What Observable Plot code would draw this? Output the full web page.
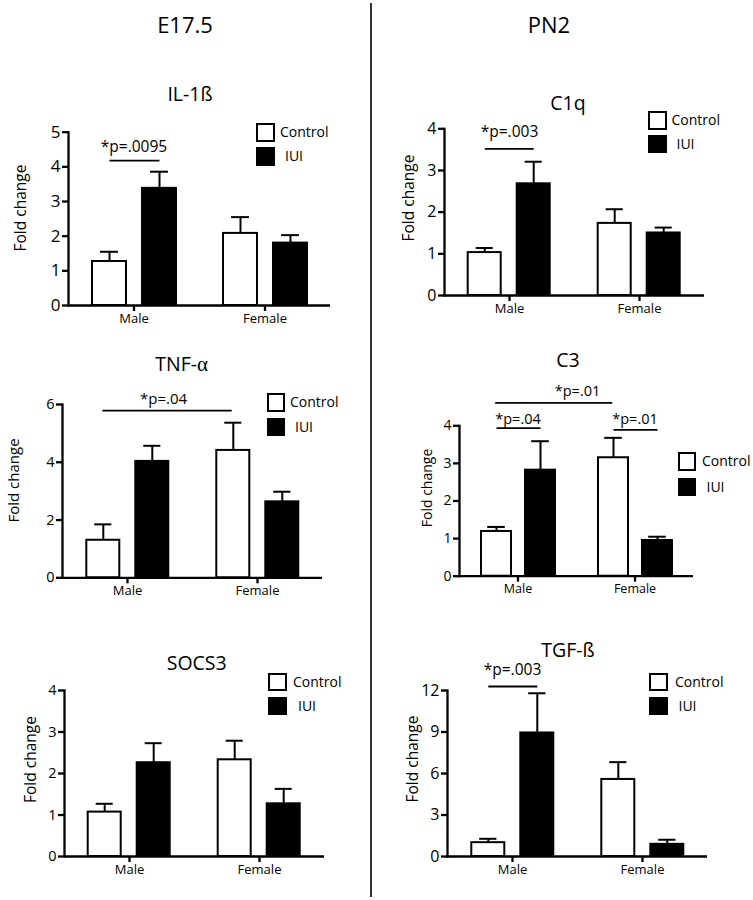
<!DOCTYPE html>
<html>
<head>
<meta charset="utf-8">
<script src="https://cdn.jsdelivr.net/npm/d3@7"></script>
<script src="https://cdn.jsdelivr.net/npm/@observablehq/plot@0.6"></script>
<style>
  body { margin: 0; background: #fff; }
  #fig { position: relative; width: 753px; height: 900px; font-family: "Open Sans", sans-serif; color: #000; overflow: hidden; background: #fff; }
  #fig svg { position: absolute; }
  .hdr { position: absolute; font-size: 22px; transform: translate(-50%, -50%); white-space: nowrap; }
  .ttl { position: absolute; font-size: 19.5px; transform: translate(-50%, -50%); white-space: nowrap; }
  .box { position: absolute; box-sizing: border-box; border: 2px solid #000; }
  .lg { position: absolute; font-size: 14px; transform: translateY(-50%); white-space: nowrap; line-height: 1; }
  .divider { position: absolute; left: 370px; top: 3px; width: 2px; height: 894px; background: #333; }
</style>
</head>
<body>
<div id="fig"></div>
<script>
// ---------- data ----------
const sexes = ["Male", "Female"];
const groups = ["Control", "IUI"];
const columnHeaders = ["E17.5", "PN2"];
const yLabel = "Fold change";

// IL-1ß (E17.5)
const il1bControl = [1.27, 2.08];
const il1bControlSem = [0.28, 0.47];
const il1bIUI = [3.38, 1.80];
const il1bIUISem = [0.48, 0.23];
const il1bTicks = [0, 1, 2, 3, 4, 5];
const il1bSig = [{kind: "within", sex: "Male", from: "Control", to: "IUI", line: 4.18, text: 4.56, label: "*p=.0095"}];

// TNF-α (E17.5)
const tnfControl = [1.30, 4.41];
const tnfControlSem = [0.55, 0.96];
const tnfIUI = [4.03, 2.63];
const tnfIUISem = [0.54, 0.35];
const tnfTicks = [0, 2, 4, 6];
const tnfSig = [{kind: "across", line: 5.79, text: 6.20, label: "*p=.04"}];

// SOCS3 (E17.5)
const socs3Control = [1.07, 2.33];
const socs3ControlSem = [0.20, 0.46];
const socs3IUI = [2.26, 1.27];
const socs3IUISem = [0.47, 0.36];
const socs3Ticks = [0, 1, 2, 3, 4];
const socs3Sig = [];

// C1q (PN2)
const c1qControl = [1.03, 1.73];
const c1qControlSem = [0.11, 0.34];
const c1qIUI = [2.68, 1.50];
const c1qIUISem = [0.53, 0.13];
const c1qTicks = [0, 1, 2, 3, 4];
const c1qSig = [{kind: "within", sex: "Male", from: "Control", to: "IUI", line: 3.52, text: 3.92, label: "*p=.003"}];

// C3 (PN2)
const c3Control = [1.19, 3.15];
const c3ControlSem = [0.12, 0.53];
const c3IUI = [2.82, 0.95];
const c3IUISem = [0.77, 0.10];
const c3Ticks = [0, 1, 2, 3, 4];
const c3Sig = [
  {kind: "across", line: 4.61, text: 4.92, label: "*p=.01"},
  {kind: "within", sex: "Male", from: "Control", to: "IUI", line: 3.94, text: 4.16, label: "*p=.04"},
  {kind: "within", sex: "Female", from: "Control", to: "IUI", line: 3.89, text: 4.16, label: "*p=.01"}
];

// TGF-ß (PN2)
const tgfbControl = [1.00, 5.57];
const tgfbControlSem = [0.28, 1.25];
const tgfbIUI = [8.93, 0.88];
const tgfbIUISem = [2.87, 0.33];
const tgfbTicks = [0, 3, 6, 9, 12];
const tgfbSig = [{kind: "within", sex: "Male", from: "Control", to: "IUI", line: 12.29, text: 13.45, label: "*p=.003"}];

// ---------- layout ----------
const PAD_INNER = 0.32, PAD_OUTER = 0.47, CAP_W = 18;

const panels = [
  {title: "IL-1ß", titleAt: [190, 92.7], svg: {left: 0, top: 105, width: 370, height: 235}, frame: {L: 67, R: 330, T: 131.7, B: 305},
   ticks: il1bTicks, control: il1bControl, controlErr: il1bControlSem, iui: il1bIUI, iuiErr: il1bIUISem, sig: il1bSig, acrossDx: 0,
   tickFont: 17, xFont: 13, yLabelAt: [20, 207.5], yLabelFont: 15.5, sigFont: 15.5,
   legend: {x: 256, yC: 123, yI: 147, tx: 280, ti: 285}},
  {title: "C1q", titleAt: [568, 101.7], svg: {left: 375, top: 100, width: 378, height: 230}, frame: {L: 443.3, R: 705, T: 128.3, B: 295},
   ticks: c1qTicks, control: c1qControl, controlErr: c1qControlSem, iui: c1qIUI, iuiErr: c1qIUISem, sig: c1qSig, acrossDx: 0,
   tickFont: 16, xFont: 13, yLabelAt: [408, 197.5], yLabelFont: 15.5, sigFont: 15.5,
   legend: {x: 648, yC: 111, yI: 134.5, tx: 671.5, ti: 676.5}},
  {title: "TNF-<span style=\"font-family:'Liberation Serif',serif;font-size:21px\">α</span>", titleAt: [181.7, 363.3], svg: {left: 0, top: 380, width: 370, height: 232}, frame: {L: 61.7, R: 323, T: 404, B: 577.3},
   ticks: tnfTicks, control: tnfControl, controlErr: tnfControlSem, iui: tnfIUI, iuiErr: tnfIUISem, sig: tnfSig, acrossDx: -29,
   tickFont: 14.5, xFont: 13, yLabelAt: [13.5, 480], yLabelFont: 15, sigFont: 15,
   legend: {x: 266.5, yC: 393, yI: 417.5, tx: 290, ti: 295}},
  {title: "C3", titleAt: [568, 359], svg: {left: 375, top: 375, width: 378, height: 235}, frame: {L: 459, R: 693, T: 425.3, B: 575.7},
   ticks: c3Ticks, control: c3Control, controlErr: c3ControlSem, iui: c3IUI, iuiErr: c3IUISem, sig: c3Sig, acrossDx: 1,
   tickFont: 14, xFont: 12.5, yLabelAt: [427, 487.5], yLabelFont: 14, sigFont: 14.5,
   legend: {x: 677.5, yC: 452, yI: 477.5, tx: 702, ti: 706.5}},
  {title: "SOCS3", titleAt: [196.7, 661.7], svg: {left: 0, top: 665, width: 370, height: 225}, frame: {L: 63.3, R: 325, T: 690, B: 856},
   ticks: socs3Ticks, control: socs3Control, controlErr: socs3ControlSem, iui: socs3IUI, iuiErr: socs3IUISem, sig: socs3Sig, acrossDx: 0,
   tickFont: 14.5, xFont: 13, yLabelAt: [29.5, 759], yLabelFont: 15.5, sigFont: 15,
   legend: {x: 268, yC: 672.5, yI: 696.5, tx: 293, ti: 298}},
  {title: "TGF-ß", titleAt: [568, 649.3], svg: {left: 375, top: 655, width: 378, height: 235}, frame: {L: 446.7, R: 706.7, T: 690, B: 856},
   ticks: tgfbTicks, control: tgfbControl, controlErr: tgfbControlSem, iui: tgfbIUI, iuiErr: tgfbIUISem, sig: tgfbSig, acrossDx: 0,
   tickFont: 16, xFont: 13, yLabelAt: [412, 758.5], yLabelFont: 15.5, sigFont: 15.5,
   legend: {x: 649, yC: 672.5, yI: 696.5, tx: 675, ti: 678.5}}
];

const fig = document.getElementById("fig");

function addDiv(cls, html, x, y) {
  const d = document.createElement("div");
  d.className = cls;
  d.innerHTML = html;
  d.style.left = x + "px";
  d.style.top = y + "px";
  fig.appendChild(d);
  return d;
}

function drawPanel(p) {
  const {svg, frame} = p;
  const ml = frame.L - svg.left;
  const mr = svg.left + svg.width - frame.R;
  const mt = frame.T - svg.top;
  const mb = svg.top + svg.height - frame.B;
  const rows = [];
  sexes.forEach((s, i) => {
    rows.push({sex: s, group: groups[0], value: p.control[i], err: p.controlErr[i]});
    rows.push({sex: s, group: groups[1], value: p.iui[i], err: p.iuiErr[i]});
  });
  const facetW = (frame.R - frame.L) / sexes.length;
  const frameH = frame.B - frame.T;
  const step = facetW / (groups.length - PAD_INNER + 2 * PAD_OUTER);
  const bw = step * (1 - PAD_INNER);
  const ctrlCenter = PAD_OUTER * step + bw / 2;
  const capInset = (bw - CAP_W) / 2;
  const within = p.sig.filter(d => d.kind === "within");
  const across = p.sig.filter(d => d.kind === "across");
  const yMax = p.ticks[p.ticks.length - 1];
  const frameMidY = (frame.T + frame.B) / 2;

  const chart = Plot.plot({
    width: svg.width,
    height: svg.height,
    marginLeft: ml, marginRight: mr, marginTop: mt, marginBottom: mb,
    style: {fontFamily: "Open Sans, sans-serif", color: "#000", background: "transparent", overflow: "visible", maxWidth: "none"},
    fx: {domain: sexes, padding: 0},
    x: {domain: groups, paddingInner: PAD_INNER, paddingOuter: PAD_OUTER, axis: null},
    y: {domain: [0, yMax]},
    color: {domain: groups, range: ["#fff", "#000"]},
    marks: [
      Plot.barY(rows, {fx: "sex", x: "group", y: "value", fill: "group", stroke: "#000", strokeWidth: 2}),
      Plot.ruleX(rows, {fx: "sex", x: "group", y1: "value", y2: d => d.value + d.err, stroke: "#000", strokeWidth: 2}),
      Plot.tickY(rows, {fx: "sex", x: "group", y: d => d.value + d.err, stroke: "#000", strokeWidth: 2, insetLeft: capInset, insetRight: capInset}),
      Plot.ruleY([0], {stroke: "#000", strokeWidth: 2.3}),
      Plot.frame({anchor: "left", facetAnchor: "left", stroke: "#000", strokeWidth: 2.3}),
      Plot.axisY({ticks: p.ticks, tickFormat: "d", tickSize: 6, tickPadding: 2, fontSize: p.tickFont, strokeWidth: 2.3, label: null}),
      // category tick below each sex group
      Plot.ruleX(sexes, {fx: d => d, insetTop: frameH, insetBottom: -6, stroke: "#000", strokeWidth: 2.3}),
      Plot.axisFx({anchor: "bottom", tickSize: 6, tickPadding: 2, fontSize: p.xFont, strokeWidth: 2.3, label: null}),
      Plot.text([{sex: sexes[0], label: yLabel}], {fx: "sex", text: "label", frameAnchor: "left", rotate: -90,
        textAnchor: "middle", lineAnchor: "middle", fontSize: p.yLabelFont,
        dx: p.yLabelAt[0] - frame.L, dy: p.yLabelAt[1] - frameMidY}),
      // significance brackets within a sex
      Plot.link(within, {fx: "sex", x1: "from", x2: "to", y1: "line", y2: "line", stroke: "#000", strokeWidth: 1.8}),
      Plot.text(within, {fx: "sex", y: "text", text: "label", fontSize: p.sigFont, textAnchor: "middle"}),
      // significance brackets across sexes (Control vs Control)
      Plot.ruleY(across, {fx: () => sexes[0], y: "line", insetLeft: ctrlCenter, stroke: "#000", strokeWidth: 1.8}),
      Plot.ruleY(across, {fx: () => sexes[1], y: "line", insetRight: facetW - ctrlCenter, stroke: "#000", strokeWidth: 1.8}),
      Plot.text(across, {fx: () => sexes[0], y: "text", text: "label", frameAnchor: "right", textAnchor: "middle", dx: p.acrossDx, fontSize: p.sigFont})
    ]
  });
  chart.style.left = svg.left + "px";
  chart.style.top = svg.top + "px";
  fig.appendChild(chart);

  // title
  addDiv("ttl", p.title, p.titleAt[0], p.titleAt[1]);
  // legend
  const L = p.legend, size = 18.5;
  const b1 = addDiv("box", "", L.x, L.yC); b1.style.width = size + "px"; b1.style.height = size + "px"; b1.style.background = "#fff";
  const b2 = addDiv("box", "", L.x, L.yI); b2.style.width = size + "px"; b2.style.height = size + "px"; b2.style.background = "#000";
  addDiv("lg", groups[0], L.tx, L.yC + size / 2);
  addDiv("lg", groups[1], L.ti, L.yI + size / 2);
}

panels.forEach(drawPanel);

addDiv("hdr", columnHeaders[0], 185, 23.5);
addDiv("hdr", columnHeaders[1], 549, 23.5);
const dv = document.createElement("div"); dv.className = "divider"; fig.appendChild(dv);
</script>
</body>
</html>
